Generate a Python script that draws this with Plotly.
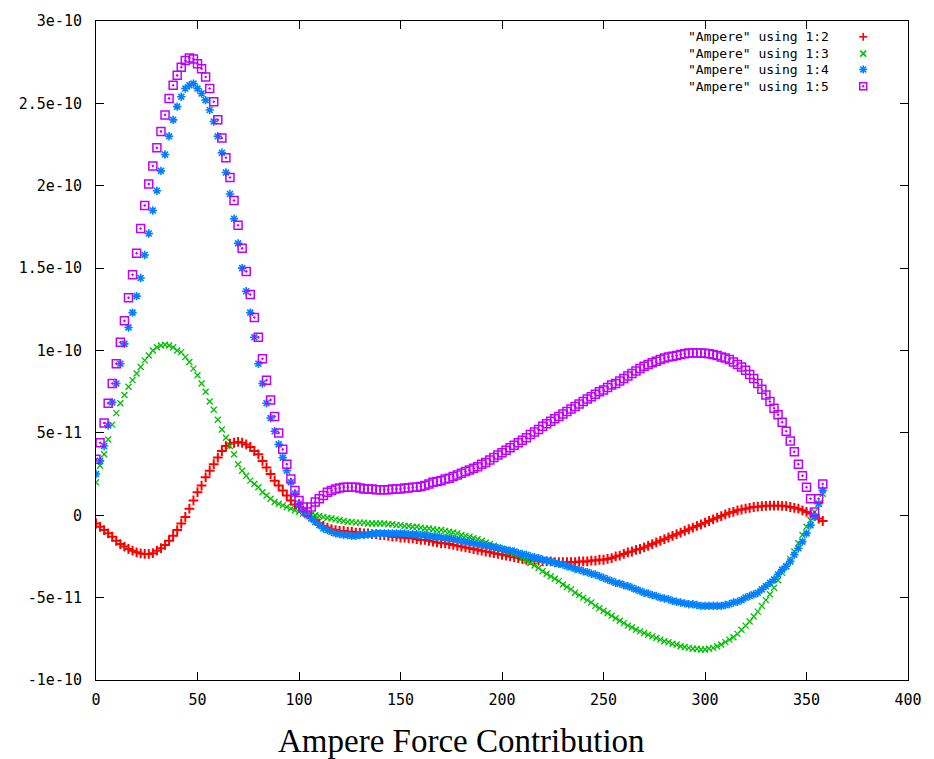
import plotly.graph_objects as go

# sample angles (degrees)
angle = list(range(0, 360, 2))

# values in units of 1e-12
col2 = [
    -5, -7, -9, -11, -13, -15.5, -17.5, -19, -20.5, -21.5,
    -22.5, -23.2, -23.5, -23.5, -23, -21.5, -20, -18, -15.5, -12.5,
    -9, -5, -1, 4, 9, 14, 18, 23, 27, 31,
    35, 39, 42, 43.5, 44, 44.5, 44, 43, 41.5, 39,
    37, 33, 29, 25, 21, 18, 15, 12, 9, 6.5,
    5, 3, 1, -1, -3, -5, -6.5, -7.5, -8.5, -9,
    -9.5, -9.5, -10, -10, -10.5, -10.5, -11, -11, -11.5, -11.5,
    -12, -12, -12.5, -13, -13, -13.5, -13.5, -14, -14, -14.5,
    -15, -15, -15.5, -16, -16.5, -17, -17, -17.5, -18, -18.5,
    -19, -19.5, -20, -20.5, -21, -21.5, -22, -22.5, -23, -23.5,
    -24, -24.5, -25, -25.5, -26, -26.5, -27, -27, -27.5, -27.5,
    -28, -28, -28, -28.5, -28.5, -28.5, -28.5, -28.5, -28.5, -28,
    -28, -28, -27.5, -27.5, -27, -27, -26.5, -26, -25, -24.5,
    -23.5, -22.5, -22, -21, -20.5, -19.5, -18.5, -17.5, -16.5, -15.5,
    -14.5, -13.5, -12.5, -11.5, -10.5, -9.5, -8.5, -7.5, -6.5, -5.5,
    -4.5, -3.5, -2.5, -1.5, -0.5, 0.5, 1.5, 2, 3, 3.5,
    4, 4.5, 5, 5.2, 5.5, 5.7, 5.8, 5.8, 5.8, 5.7,
    5.5, 5, 4.5, 4, 3, 2, 1, -0.5, -2, -3.5,
]
col3 = [
    20, 30, 37, 46, 55, 62, 68, 73, 78, 82,
    86, 90, 94, 97, 100, 102, 103, 103.5, 103, 102,
    100, 99, 96, 93, 89, 85, 80, 75, 69, 64,
    58, 52, 47, 42, 37, 31, 27, 24, 21, 19,
    17, 14, 12, 10, 8, 7, 6, 5, 4, 3,
    2, 1, 1, 0, 0, -0.5, -1, -1.5, -2, -2.5,
    -3, -3.5, -4, -4, -4.5, -4.5, -4.5, -5, -5, -5,
    -5, -5, -5.5, -5.5, -6, -6, -6.5, -6.5, -7, -7,
    -7.5, -8, -8, -8.5, -9, -9, -9.5, -10, -10.5, -11,
    -12, -12.5, -13, -14, -14.5, -15.5, -16.5, -17.5, -18.5, -19.5,
    -20.5, -21.5, -22.5, -23.5, -24.5, -26, -27.5, -29, -30.5, -32,
    -34, -35.5, -37, -38.5, -40, -42, -43.5, -45, -47, -48.5,
    -50, -51.5, -53, -55, -56.5, -58, -59.5, -61, -62.5, -64,
    -65.5, -67, -68, -69.5, -70.5, -71.5, -72.5, -73.5, -74.5, -75.5,
    -76.5, -77, -78, -78.5, -79.5, -80, -80.5, -81, -81, -81.5,
    -81.5, -81, -80.5, -79.5, -78.5, -77, -75.5, -74, -72, -69.5,
    -67, -64.5, -61.5, -58.5, -55, -51.5, -48, -44, -39.5, -35,
    -31, -26.5, -22, -17, -12, -7, -3, 2, 7, 13,
]
col4 = [
    25, 33, 42, 54.5, 68.5, 80, 92, 104, 114, 123,
    133, 144, 158, 171, 185, 197, 209, 219, 230, 240,
    248, 254, 259, 261, 262, 259, 256, 252, 246, 239,
    230, 220, 208, 195, 180, 165, 150, 136, 123, 108,
    92, 80, 68, 59, 51, 43, 35, 27, 20, 13,
    7, 3, 0, -2, -4, -6, -8, -9, -10, -11,
    -11.5, -12, -12, -12.5, -12.5, -12, -12, -11.5, -11.5, -11,
    -11, -11, -11, -11, -11, -11, -11, -11.5, -11.5, -11.5,
    -12, -12, -12.5, -13, -13, -13.5, -14, -14, -14.5, -15,
    -15.5, -16, -16.5, -17, -17.5, -18, -18.5, -19, -19.5, -20,
    -20.5, -21, -21.5, -22, -23, -23.5, -24, -25, -25.5, -26,
    -27, -27.5, -28, -29, -29.5, -30, -31, -31.5, -32.5, -33,
    -34, -34.5, -35.5, -36, -37, -38, -39, -40, -41, -41.5,
    -42.5, -43, -44, -45, -46, -47, -47.5, -48.5, -49, -50,
    -50.5, -51, -52, -52.5, -53, -53.5, -54, -54, -54.5, -55,
    -55, -55, -55, -55, -55, -54.5, -54, -53, -52.5, -51.5,
    -50, -49, -48, -47, -45, -43, -41, -39, -36, -33,
    -31, -28, -24, -20, -16, -11, -6, -1, 7, 15,
]
col5 = [
    34, 44, 56, 68, 80, 92, 105, 118, 132, 146,
    159, 174, 188, 201, 212, 223, 233, 243, 253, 261,
    267, 272, 276, 277.5, 277, 274, 271, 266, 259, 251,
    240, 229, 217, 205, 191, 176, 162, 148, 134, 120,
    108, 95, 82, 70, 60, 50, 40, 31, 22, 15,
    9, 5, 2, 5, 8, 10, 12, 14, 15, 16,
    16.5, 17, 17, 17, 17, 16.5, 16, 16, 16, 15.5,
    15.5, 15.5, 15.5, 16, 16, 16, 16.5, 16.5, 17, 17,
    17.5, 18, 19, 20, 20.5, 21, 22, 22.5, 23.5, 24.5,
    25.5, 26.5, 27.5, 28.5, 29.5, 31, 32, 33.5, 35, 36.5,
    38, 39.5, 41, 42.5, 44, 45.5, 47, 49, 50.5, 52,
    54, 55.5, 57, 58.5, 60, 61.5, 63, 64.5, 66, 67.5,
    69, 70.5, 72, 73.5, 75, 76, 77.5, 79, 80, 81.5,
    83, 84.5, 86, 87.5, 89, 90.5, 91.5, 92.5, 93.5, 94.5,
    95.5, 96, 96.5, 97, 97.5, 98, 98.5, 98.5, 98.5, 98.5,
    98.3, 98, 97.5, 97, 96, 95.5, 94.5, 93, 91.5, 90,
    88, 85.5, 83, 80, 76.5, 73, 69, 65, 61, 56.5,
    51, 45, 38.5, 31, 24, 17, 10, 2, 10, 19,
]
UNIT = 1e-12

names = ['"Ampere" using 1:2', '"Ampere" using 1:3',
         '"Ampere" using 1:4', '"Ampere" using 1:5']
colors = ["#ff0000", "#00c000", "#0080ff", "#c000ff"]
symbols = ["cross-thin-open", "x-thin-open", "asterisk-open", "square-open-dot"]
sizes = [7, 6, 7, 8]
widths = [2, 1.3, 1.6, 1.5]

y_tickvals = [-1e-10, -5e-11, 0, 5e-11, 1e-10, 1.5e-10, 2e-10, 2.5e-10, 3e-10]
y_ticktext = ["-1e-10", "-5e-11", "0", "5e-11", "1e-10", "1.5e-10", "2e-10", "2.5e-10", "3e-10"]
x_tickvals = [0, 50, 100, 150, 200, 250, 300, 350, 400]
x_ticktext = ["0", "50", "100", "150", "200", "250", "300", "350", "400"]

MONO = "DejaVu Sans Mono"

fig = go.Figure()
for name, vals, c, s, sz, w in zip(names, [col2, col3, col4, col5], colors, symbols, sizes, widths):
    fig.add_trace(go.Scatter(
        x=angle, y=[v * UNIT for v in vals], mode="markers", name=name,
        marker=dict(symbol=s, size=sz, color=c, line=dict(color=c, width=w)),
        showlegend=False,
    ))

W, H = 934, 759
L, R, T, B = 96, 22, 13, 79
PW, PH = W - L - R, H - T - B


def px(xp):
    return (xp - L) / PW


def py(yp):
    return (H - B - yp) / PH


shapes = []
annotations = []
rows = [29, 46, 62, 79]
sx = 867
for i, (name, c) in enumerate(zip(names, colors)):
    yy = rows[i]
    annotations.append(dict(text=name, xref="paper", yref="paper", x=px(834), y=py(yy),
                            xanchor="right", yanchor="middle", showarrow=False,
                            borderpad=0,
                            font=dict(family=MONO, size=13, color="black")))
    line = dict(color=c, width=1.6)
    segs = []
    if i == 0:
        segs = [(-4, 0, 4, 0), (0, -4, 0, 4)]
    elif i == 1:
        segs = [(-3, -3, 3, 3), (-3, 3, 3, -3)]
    elif i == 2:
        segs = [(-4, 0, 4, 0), (0, -4, 0, 4), (-3, -3, 3, 3), (-3, 3, 3, -3)]
    for (x0, y0, x1, y1) in segs:
        shapes.append(dict(type="line", xref="paper", yref="paper",
                           x0=px(sx + x0), y0=py(yy + y0), x1=px(sx + x1), y1=py(yy + y1),
                           line=line))
    if i == 3:
        shapes.append(dict(type="rect", xref="paper", yref="paper",
                           x0=px(sx - 3.5), y0=py(yy + 3.5), x1=px(sx + 3.5), y1=py(yy - 3.5),
                           line=dict(color=c, width=1.5)))
        shapes.append(dict(type="rect", xref="paper", yref="paper",
                           x0=px(sx - 0.7), y0=py(yy + 0.7), x1=px(sx + 0.7), y1=py(yy - 0.7),
                           line=dict(color=c, width=0.8), fillcolor=c))

annotations.append(dict(text="Ampere Force Contribution", xref="paper", yref="paper",
                        x=px(463), y=py(742), xanchor="center", yanchor="middle",
                        showarrow=False,
                        font=dict(family="Liberation Serif", size=33, color="black")))

axis_common = dict(showline=True, linecolor="black", linewidth=1, mirror="allticks",
                   ticks="inside", ticklen=8, tickwidth=1, tickcolor="black",
                   showgrid=False, zeroline=False,
                   tickfont=dict(family=MONO, size=15, color="black"))

fig.update_layout(
    width=W, height=H,
    margin=dict(l=L, r=R, t=T, b=B, pad=0),
    paper_bgcolor="white", plot_bgcolor="white",
    xaxis=dict(range=[0, 400], tickvals=x_tickvals, ticktext=x_ticktext,
               ticklabelstandoff=6, **axis_common),
    yaxis=dict(range=[-1e-10, 3e-10], tickvals=y_tickvals, ticktext=y_ticktext,
               ticklabelstandoff=10, **axis_common),
    shapes=shapes, annotations=annotations,
)

fig.write_html("out.html")
